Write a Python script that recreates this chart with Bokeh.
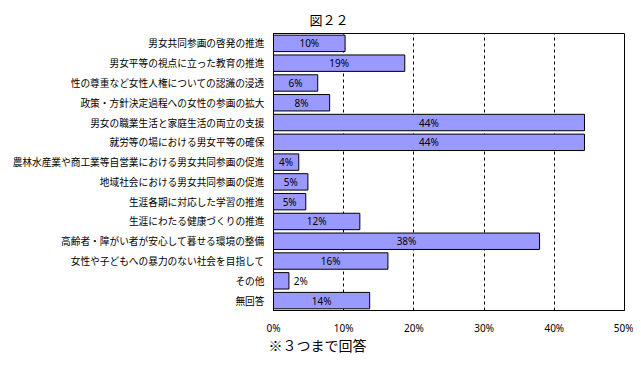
from bokeh.plotting import figure
from bokeh.models import Range1d, FactorRange, FixedTicker, PrintfTickFormatter, ColumnDataSource, Title
from bokeh.core.properties import value
from bokeh.embed import file_html
from bokeh.resources import INLINE
import numpy as np

categories = [
    "男女共同参画の啓発の推進",
    "男女平等の視点に立った教育の推進",
    "性の尊重など女性人権についての認識の浸透",
    "政策・方針決定過程への女性の参画の拡大",
    "男女の職業生活と家庭生活の両立の支援",
    "就労等の場における男女平等の確保",
    "農林水産業や商工業等自営業における男女共同参画の促進",
    "地域社会における男女共同参画の促進",
    "生涯各期に対応した学習の推進",
    "生涯にわたる健康づくりの推進",
    "高齢者・障がい者が安心して暮せる環境の整備",
    "女性や子どもへの暴力のない社会を目指して",
    "その他",
    "無回答",
]
values = [10.2, 18.7, 6.3, 8.0, 44.3, 44.3, 3.6, 4.9, 4.6, 12.3, 37.9, 16.3, 2.2, 13.7]
x_ticks = [0, 10, 20, 30, 40, 50]
title_text = "図２２"
note_text = "※３つまで回答"

JP = "Noto Sans CJK JP"

vals = np.array(values)
labels = [f"{int(v + 0.5):d}%" for v in values]
label_x = np.where(vals < 3, vals + 0.7, vals / 2)
label_align = ["left" if v < 3 else "center" for v in values]

src = ColumnDataSource(dict(cat=categories, val=values, lab=labels, lx=label_x, la=label_align))

p = figure(width=633, height=365, output_backend="svg", toolbar_location=None,
           y_range=FactorRange(factors=categories[::-1]), x_range=Range1d(0, 50),
           min_border_left=273, min_border_right=9, min_border_top=33, min_border_bottom=55,
           background_fill_color="white", border_fill_color="white")
p.outline_line_color = "black"
p.outline_line_width = 1

p.title = Title(text=title_text, align="left", offset=36, text_font=JP,
                text_font_size="13px", text_font_style="normal", text_color="black")
p.add_layout(Title(text=note_text, align="left", offset=-5, standoff=-5, vertical_align="top",
                   text_font=JP, text_font_size="14px", text_font_style="normal",
                   text_color="black"), "below")

p.hbar(y="cat", left=0, right="val", height=0.83, source=src,
       fill_color="#9999FF", line_color="black", line_width=1)
p.text(x="lx", y="cat", text="lab", source=src, text_align="la", text_baseline="middle",
       text_font=value("Noto Sans"), text_font_size="10px", text_color="black")

p.xaxis.ticker = FixedTicker(ticks=x_ticks)
p.xaxis.formatter = PrintfTickFormatter(format="%d%%")
p.xaxis.major_tick_in = 0
p.xaxis.major_tick_out = 0
p.xaxis.minor_tick_line_color = None
p.xaxis.axis_line_color = "black"
p.xaxis.major_label_standoff = 10
p.xaxis.major_label_text_font = "Noto Sans"
p.xaxis.major_label_text_font_size = "10px"
p.xaxis.major_label_text_color = "black"

p.yaxis.major_tick_in = 0
p.yaxis.major_tick_out = 0
p.yaxis.axis_line_color = "black"
p.yaxis.major_label_standoff = 9
p.yaxis.major_label_text_font = JP
p.yaxis.major_label_text_font_size = "9.7px"
p.yaxis.major_label_text_color = "black"

p.xgrid.ticker = FixedTicker(ticks=[10, 20, 30, 40])
p.xgrid.grid_line_color = "black"
p.xgrid.grid_line_dash = "3 3"
p.xgrid.grid_line_width = 1
p.ygrid.grid_line_color = None

open("out.html", "w").write(file_html(p, INLINE))
